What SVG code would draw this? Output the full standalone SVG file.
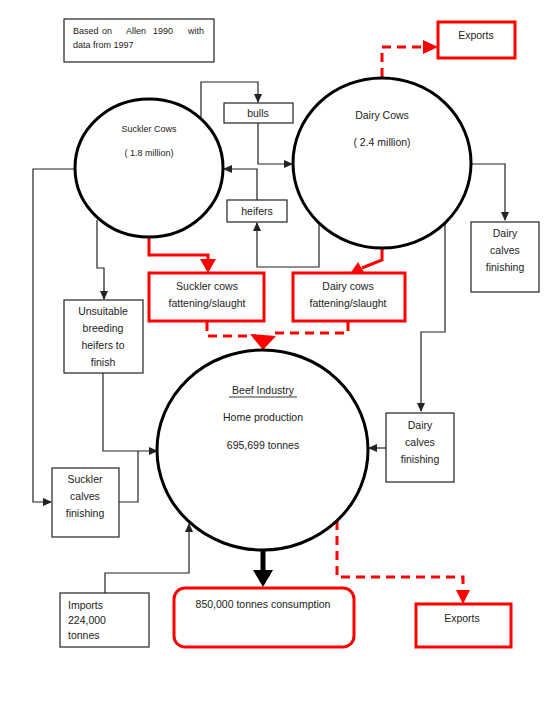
<svg xmlns="http://www.w3.org/2000/svg" width="560" height="711" viewBox="0 0 560 711">
<defs>
<style>
text{font-family:"Liberation Sans",Arial,sans-serif;fill:#222;text-anchor:middle}
.box{fill:#fff;stroke:#222;stroke-width:1.2}
.rbox{fill:#fff;stroke:#f00;stroke-width:3}
.circ{fill:#fff;stroke:#000;stroke-width:3}
.ln{fill:none;stroke:#222;stroke-width:1.2}
.rl{fill:none;stroke:#f00;stroke-width:3}
.rd{fill:none;stroke:#f00;stroke-width:3;stroke-dasharray:9,6}
.t10{font-size:10.5px}
.t9{font-size:9px}
.l{text-anchor:start}
</style>
<marker id="a" markerWidth="10" markerHeight="10" refX="8" refY="4" orient="auto" markerUnits="userSpaceOnUse">
<path d="M0,0 L9,4 L0,8 Z" fill="#222"/>
</marker>
</defs>
<rect width="560" height="711" fill="#fff"/>

<g id="note">
<rect class="box" x="64" y="19" width="150" height="43"/>
<text class="t9 l" y="34"><tspan x="73">Based</tspan><tspan x="102">on</tspan><tspan x="126">Allen</tspan><tspan x="153">1990</tspan><tspan x="188">with</tspan></text>
<text class="t9 l" x="73" y="48">data from 1997</text>
</g>

<g id="connectors">
<path class="ln" d="M201,117 V82 H258 V102" marker-end="url(#a)"/>
<path class="ln" d="M258,123 V164 H292" marker-end="url(#a)"/>
<path class="ln" d="M319,225 V267 H257 V223" marker-end="url(#a)"/>
<path class="ln" d="M257,200 V169 H224" marker-end="url(#a)"/>
<path class="ln" d="M471,164 H505 V220" marker-end="url(#a)"/>
<path class="ln" d="M445,224 V332 H421 V411" marker-end="url(#a)"/>
<path class="ln" d="M386,448 H369" marker-end="url(#a)"/>
<path class="ln" d="M75,169 H33 V502 H51" marker-end="url(#a)"/>
<path class="ln" d="M97,220 V268 H104 V299" marker-end="url(#a)"/>
<path class="ln" d="M103,373 V451 H157" marker-end="url(#a)"/>
<path class="ln" d="M119,502 H138 V451"/>
<path class="ln" d="M105,593 V573 H189 V524" marker-end="url(#a)"/>
<path class="rl" d="M149,237 V255 H208 V262"/>
<path d="M200,259 L216,259 L208,273 Z" fill="#f00"/>
<path class="rl" d="M382,248 V260 L362,268"/>
<path d="M358,262 L366,276 L350,274 Z" fill="#f00"/>
<path class="rd" d="M207,322 V336 H256"/>
<path class="rd" d="M348,322 V333 H270"/>
<path d="M250,334 L276,336 L263,350 Z" fill="#f00"/>
<path class="rd" d="M382,77 V47 H425"/>
<path d="M423,40 L438,47 L423,54 Z" fill="#f00"/>
<path class="rd" d="M337,521 V577 H463 V592"/>
<path d="M456,590 L470,590 L463,604 Z" fill="#f00"/>
<rect x="260.5" y="550" width="5" height="22" fill="#000"/>
<path d="M253,570 L273,570 L263,587 Z" fill="#000"/>
</g>

<g id="suckler">
<ellipse class="circ" cx="149" cy="168" rx="74" ry="69"/>
<text class="t9" x="149" y="132">Suckler Cows</text>
<text class="t9" x="149" y="156">( 1.8 million)</text>
</g>

<g id="dairy">
<ellipse class="circ" cx="382" cy="163" rx="89" ry="85"/>
<text class="t10" x="382" y="119">Dairy Cows</text>
<text class="t10" x="382" y="146">( 2.4 million)</text>
</g>

<g id="bulls">
<rect class="box" x="224" y="103" width="69" height="20"/>
<text class="t10" x="258" y="117">bulls</text>
</g>

<g id="heifers">
<rect class="box" x="227" y="200" width="60" height="22"/>
<text class="t10" x="257" y="215">heifers</text>
</g>

<g id="dairy-calves-top">
<rect class="box" x="471" y="222" width="68" height="70"/>
<text class="t10" x="505" y="237">Dairy</text>
<text class="t10" x="505" y="254">calves</text>
<text class="t10" x="505" y="271">finishing</text>
</g>

<g id="suckler-fattening">
<rect class="rbox" x="149" y="273" width="115" height="48"/>
<text class="t10" x="207" y="290">Suckler cows</text>
<text class="t10" x="207" y="307">fattening/slaught</text>
</g>

<g id="dairy-fattening">
<rect class="rbox" x="293" y="273" width="112" height="48"/>
<text class="t10" x="348" y="290">Dairy cows</text>
<text class="t10" x="348" y="307">fattening/slaught</text>
</g>

<g id="unsuitable">
<rect class="box" x="64" y="300" width="79" height="73"/>
<text class="t10" x="103" y="315">Unsuitable</text>
<text class="t10" x="103" y="332">breeding</text>
<text class="t10" x="103" y="349">heifers to</text>
<text class="t10" x="103" y="366">finish</text>
</g>

<g id="beef">
<ellipse class="circ" cx="262.5" cy="450" rx="105.5" ry="100"/>
<text class="t10" x="263" y="394">Beef Industry</text>
<line x1="229" y1="397" x2="297" y2="397" stroke="#222" stroke-width="0.9"/>
<text class="t10" x="263" y="421">Home production</text>
<text class="t10" x="263" y="449">695,699 tonnes</text>
</g>

<g id="dairy-calves-bottom">
<rect class="box" x="386" y="413" width="68" height="69"/>
<text class="t10" x="420" y="429">Dairy</text>
<text class="t10" x="420" y="446">calves</text>
<text class="t10" x="420" y="463">finishing</text>
</g>

<g id="suckler-calves">
<rect class="box" x="52" y="468" width="67" height="69"/>
<text class="t10" x="85" y="483">Suckler</text>
<text class="t10" x="85" y="500">calves</text>
<text class="t10" x="85" y="517">finishing</text>
</g>

<g id="imports">
<rect class="box" x="60" y="593" width="89" height="54"/>
<text class="t10 l" x="68" y="609">Imports</text>
<text class="t10 l" x="68" y="624">224,000</text>
<text class="t10 l" x="68" y="639">tonnes</text>
</g>

<g id="consumption">
<rect class="rbox" x="174" y="588" width="180" height="59" rx="11"/>
<text class="t10" x="263" y="608">850,000 tonnes consumption</text>
</g>

<g id="exports-top">
<rect class="rbox" x="438" y="22" width="77" height="36"/>
<text class="t10" x="476" y="39">Exports</text>
</g>

<g id="exports-bottom">
<rect class="rbox" x="416" y="604" width="95" height="43"/>
<text class="t10" x="462" y="622">Exports</text>
</g>
</svg>
